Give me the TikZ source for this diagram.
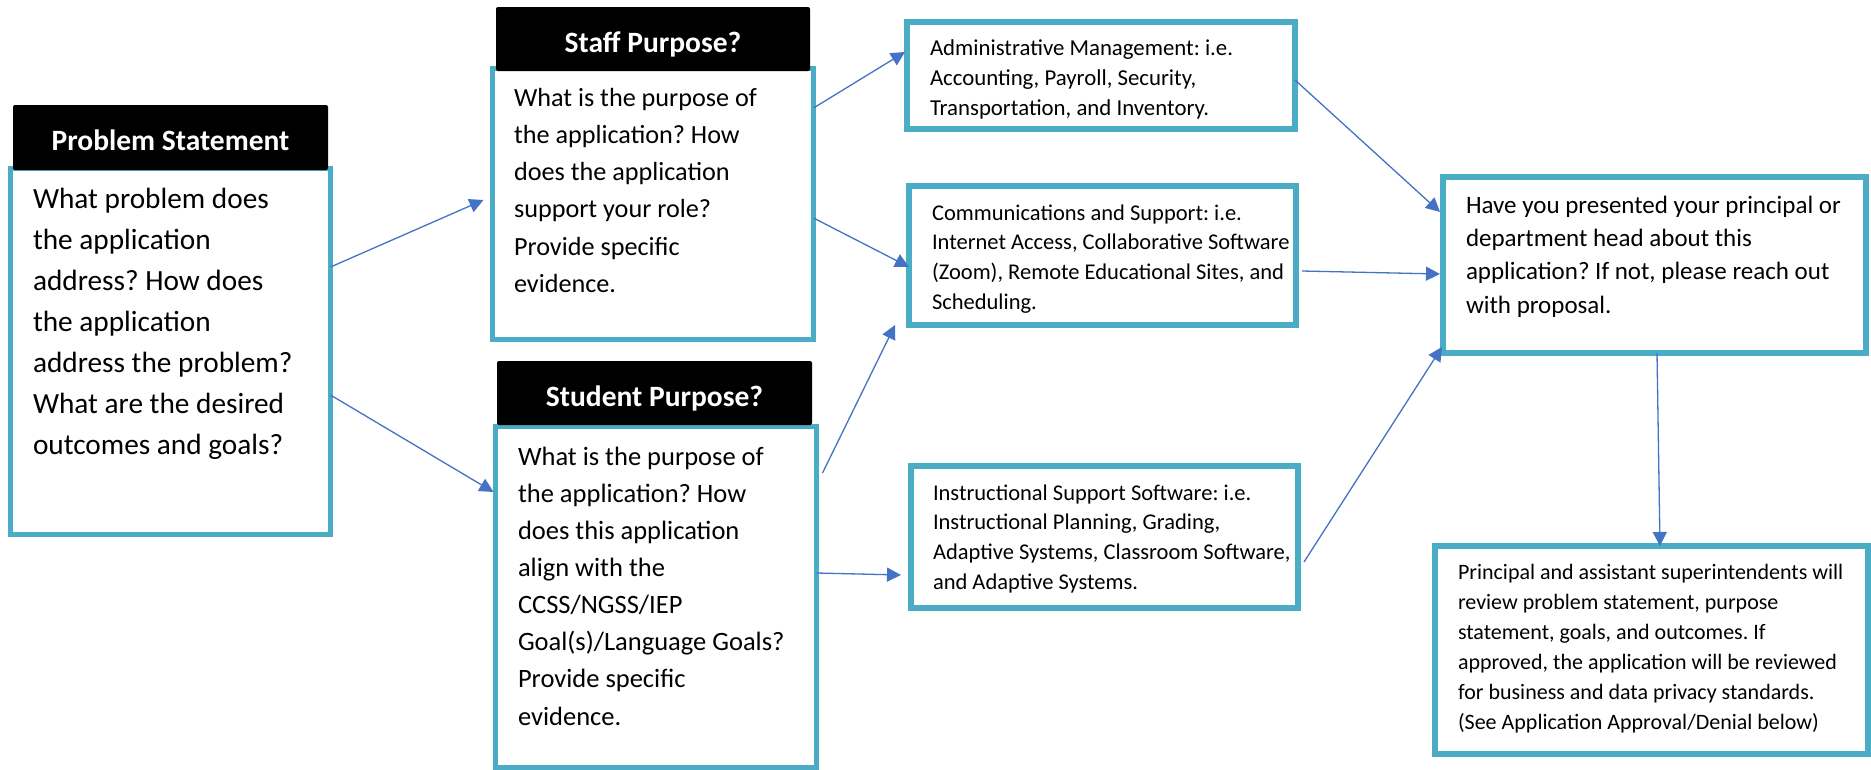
\documentclass[tikz,border=0pt]{standalone}
\usepackage{fontspec}
\setmainfont{Carlito}
\usetikzlibrary{arrows.meta,calc}
\definecolor{boxcyan}{RGB}{75,172,198}
\definecolor{arrowblue}{RGB}{68,114,196}
\frenchspacing
\tikzset{
  bodybox/.style={draw=boxcyan, fill=white, line width=5pt, inner sep=0pt, outer sep=0pt, rectangle},
  infobox/.style={draw=boxcyan, fill=white, line width=6pt, inner sep=0pt, outer sep=0pt, rectangle},
  hdrbox/.style={fill=black, rounded corners=2pt, inner sep=0pt, outer sep=0pt, text=white,
    font=\fontsize{29.5}{34}\selectfont\bfseries, text height=26pt, text depth=0pt},
  txt/.style={anchor=base west, inner sep=0pt, outer sep=0pt, text=black},
  flow/.style={draw=arrowblue, line width=1.3pt, -{Triangle[length=14pt,width=14pt]}}
}
\begin{document}
\begin{tikzpicture}[x=1pt,y=-1pt]
\useasboundingbox[fill=white] (0,0) rectangle (1871,769);

% left column bodies
\node[bodybox, minimum width=320pt, minimum height=366pt] (prob) at (170.5,351.5) {};
\node[bodybox, minimum width=321pt, minimum height=271pt] (staff) at (653,204) {};
\node[bodybox, minimum width=321pt, minimum height=341pt] (student) at (656,597) {};

% headers
\node[hdrbox, minimum width=315pt, minimum height=65pt] (probhdr) at (170.5,137.5) {Problem Statement};
\node[hdrbox, minimum width=314pt, minimum height=64pt] (staffhdr) at (653,39) {Staff Purpose?};
\node[hdrbox, minimum width=315pt, minimum height=64pt] (studhdr) at (654.5,393) {Student Purpose?};

% middle and right boxes
\node[infobox, minimum width=388pt, minimum height=107pt] (admin) at (1101,75.5) {};
\node[infobox, minimum width=387pt, minimum height=139pt] (comm) at (1102.5,255.5) {};
\node[infobox, minimum width=387pt, minimum height=142pt] (instr) at (1104.5,537) {};
\node[infobox, minimum width=423pt, minimum height=176pt] (have) at (1654.5,265) {};
\node[infobox, minimum width=433pt, minimum height=208pt] (final) at (1651.5,650) {};

% texts
\node[txt] (probtxt) at (33,208) {\parbox[t]{300pt}{\raggedright\fontsize{29.3}{41}\selectfont
What problem does\\the application\\address? How does\\the application\\address the problem?\\What are the desired\\outcomes and goals?}};
\node[txt] (stafftxt) at (514,106) {\parbox[t]{300pt}{\raggedright\fontsize{26.2}{37.3}\selectfont
What is the purpose of\\the application? How\\does the application\\support your role?\\Provide specific\\evidence.}};
\node[txt] (studtxt) at (518,465) {\parbox[t]{300pt}{\raggedright\fontsize{26.5}{37.15}\selectfont
What is the purpose of\\the application? How\\does this application\\align with the\\CCSS/NGSS/IEP\\Goal(s)/Language Goals?\\Provide specific\\evidence.}};
\begin{scope}
\clip (admin.north west) rectangle (admin.east |- 0,118);
\node[txt] (admintxt) at (930,55) {\parbox[t]{360pt}{\raggedright\fontsize{22.8}{30}\selectfont
Administrative Management: i.e.\\Accounting, Payroll, Security,\\Transportation, and Inventory.}};
\end{scope}
\node[txt] (commtxt) at (932,220) {\parbox[t]{360pt}{\raggedright\fontsize{22.5}{29.7}\selectfont
Communications and Support: i.e.\\Internet Access, Collaborative Software\\(Zoom), Remote Educational Sites, and\\Scheduling.}};
\node[txt] (instrtxt) at (933,500) {\parbox[t]{360pt}{\raggedright\fontsize{22.5}{29.7}\selectfont
Instructional Support Software: i.e.\\Instructional Planning, Grading,\\Adaptive Systems, Classroom Software,\\and Adaptive Systems.}};
\node[txt] (havetxt) at (1466,213) {\parbox[t]{400pt}{\raggedright\fontsize{25}{33.4}\selectfont
Have you presented your principal or\\department head about this\\application? If not, please reach out\\with proposal.}};
\node[txt] (finaltxt) at (1458,579) {\parbox[t]{410pt}{\raggedright\fontsize{22}{30}\selectfont
Principal and assistant superintendents will\\review problem statement, purpose\\statement, goals, and outcomes. If\\approved, the application will be reviewed\\for business and data privacy standards.\\(See Application Approval/Denial below)}};

% connectors
\draw[flow] (prob.east |- 0,267) -- ($(staff.west |- 0,200)+(-9,0)$);
\draw[flow] (prob.east |- 0,395) -- ($(student.west |- 0,492)+(-2,0)$);
\draw[flow] (staff.east |- 0,108) -- ($(admin.west |- 0,52)+(-2,0)$);
\draw[flow] (staff.east |- 0,218) -- (comm.west |- 0,267);
\draw[flow] ($(student.east |- 0,473)+(6,0)$) -- ($(comm.south west)+(-14,0)$);
\draw[flow] (student.east |- 0,573) -- ($(instr.west |- 0,575)+(-10,0)$);
\draw[flow] (admin.east |- 0,80) -- ($(have.west |- 0,212)+(-3,0)$);
\draw[flow] ($(comm.east |- 0,271)+(6,0)$) -- ($(have.west |- 0,274)+(-3,0)$);
\draw[flow] ($(instr.east |- 0,562)+(6,0)$) -- ($(have.west |- 0,347)+(-1,0)$);
\draw[flow] (have.south -| 1657,0) -- (final.north -| 1660,0);
\end{tikzpicture}
\end{document}
